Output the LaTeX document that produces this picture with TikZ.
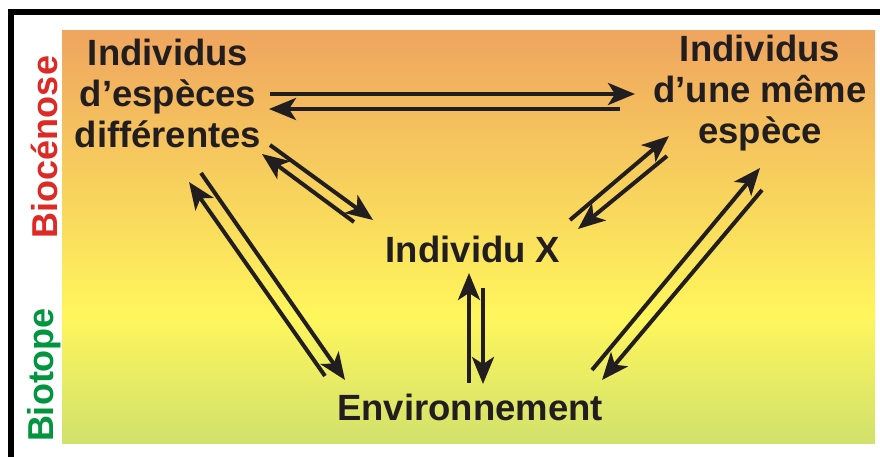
\documentclass[tikz,border=0pt]{standalone}
\usepackage{fontspec}
\setmainfont{Liberation Sans}
\usetikzlibrary{arrows.meta}
\definecolor{ink}{HTML}{221E1F}
\definecolor{gtop}{HTML}{EFA55F}
\definecolor{gmid}{HTML}{FFF65C}
\definecolor{gbot}{HTML}{D1E16C}
\definecolor{redlab}{HTML}{DD2A25}
\definecolor{greenlab}{HTML}{00953E}
\tikzset{
  lbl/.style={font=\fontsize{36.5}{41}\selectfont\bfseries, text=ink, align=center, inner sep=0pt},
  side/.style={font=\fontsize{36}{40}\selectfont\bfseries, rotate=90, inner sep=0pt},
  rel/.style={draw=ink, line width=4pt, -{Stealth[length=27pt,width=22pt,inset=7pt]}}
}
\begin{document}
\begin{tikzpicture}[x=1pt,y=-1pt]
\useasboundingbox (0,0) rectangle (880,457);
% background gradient
\shade[top color=gtop, bottom color=gmid] (62,31) rectangle (875,316);
\shade[top color=gmid, bottom color=gbot] (62,315) rectangle (875,443);
% frame
\draw[line width=5.5pt, line join=miter] (11.2,457) -- (11.2,12) -- (880,12);
% side labels
\node[side, text=redlab] (bioc) at (44,147) {Biocénose};
\node[side, text=greenlab] (biot) at (44,375) {Biotope};
% main labels
\node[lbl] (esp) at (168,93) {Individus\\d’espèces\\différentes};
\node[lbl] (meme) at (760,93) {Individus\\d’une même\\espèce};
\node[lbl, anchor=base] (x) at (473,262) {Individu X};
\node[lbl, anchor=base] (env) at (470,420) {Environnement};
% connector ends
\coordinate (h1s) at (270,94);  \coordinate (h1e) at (635,94);
\coordinate (h2s) at (620,109); \coordinate (h2e) at (269,109);
\coordinate (d1s) at (270,145); \coordinate (d1e) at (373,220);
\coordinate (d2s) at (354,222); \coordinate (d2e) at (262,154);
\coordinate (d3s) at (570,220); \coordinate (d3e) at (669,136);
\coordinate (d4s) at (667,156); \coordinate (d4e) at (578,229);
\coordinate (v1s) at (469,383); \coordinate (v1e) at (469,273);
\coordinate (v2s) at (483,288); \coordinate (v2e) at (483,384);
\coordinate (l1s) at (201,173); \coordinate (l1e) at (345,380);
\coordinate (l2s) at (325,376); \coordinate (l2e) at (189,182);
\coordinate (r1s) at (592,370); \coordinate (r1e) at (760,168);
\coordinate (r2s) at (762,190); \coordinate (r2e) at (602,380);
% connectors
\draw[rel] (h1s) -- (h1e);
\draw[rel] (h2s) -- (h2e);
\draw[rel] (d1s) -- (d1e);
\draw[rel] (d2s) -- (d2e);
\draw[rel] (d3s) -- (d3e);
\draw[rel] (d4s) -- (d4e);
\draw[rel] (v1s) -- (v1e);
\draw[rel] (v2s) -- (v2e);
\draw[rel] (l1s) -- (l1e);
\draw[rel] (l2s) -- (l2e);
\draw[rel] (r1s) -- (r1e);
\draw[rel] (r2s) -- (r2e);
\end{tikzpicture}
\end{document}
